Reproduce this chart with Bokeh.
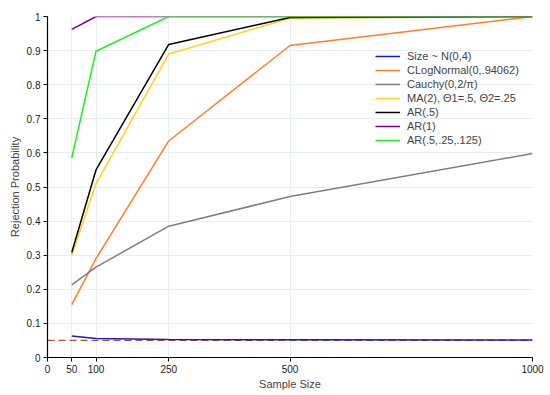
from bokeh.plotting import figure
from bokeh.models import Range1d, FixedTicker, Legend, LegendItem
from bokeh.embed import file_html
from bokeh.resources import INLINE

sizes = [50, 100, 250, 500, 1000]
normal = [0.063, 0.056, 0.053, 0.052, 0.051]
clognormal = [0.155, 0.29, 0.635, 0.915, 1.0]
cauchy = [0.213, 0.265, 0.385, 0.472, 0.598]
ma2 = [0.300, 0.51, 0.89, 0.995, 1.0]
ar05 = [0.308, 0.55, 0.918, 0.997, 1.0]
ar1 = [0.962, 1.0, 1.0, 1.0, 1.0]
ar3 = [0.585, 0.898, 1.0, 1.0, 1.0]
ref_x = [0, 1000]
ref_y = [0.05, 0.05]

series = [
    ("Size ~ N(0,4)", normal, "#1a1acc"),
    ("CLogNormal(0,.94062)", clognormal, "#ff7f27"),
    ("Cauchy(0,2/\u03c0)", cauchy, "#7f7f7f"),
    ("MA(2), \u03981=.5, \u03982=.25", ma2, "#ffd21f"),
    ("AR(.5)", ar05, "#000000"),
    ("AR(1)", ar1, "#800080"),
    ("AR(.5,.25,.125)", ar3, "#22ee22"),
]

p = figure(width=548, height=392, output_backend="svg", toolbar_location=None,
           x_range=Range1d(0, 1000), y_range=Range1d(0, 1),
           min_border_left=47, min_border_right=16, min_border_top=16, min_border_bottom=35)
p.outline_line_color = None
p.background_fill_color = "white"

p.line(ref_x, ref_y, line_color="#b0532a", line_width=1.3, line_dash="7 4")

items = []
for name, vals, col in series:
    r = p.line(sizes, vals, line_color=col, line_width=1.5)
    items.append(LegendItem(label=name, renderers=[r]))

legend = Legend(items=items, location=(328, 210))
legend.border_line_color = None
legend.background_fill_alpha = 0
legend.label_text_font = "Liberation Sans"
legend.label_text_font_size = "11px"
legend.glyph_width = 25
legend.glyph_height = 14
legend.label_height = 14
legend.label_standoff = 7
legend.spacing = 0
legend.padding = 2
p.add_layout(legend, "center")

p.xaxis.ticker = FixedTicker(ticks=[0, 50, 100, 250, 500, 1000])
p.yaxis.ticker = FixedTicker(ticks=[i / 10 for i in range(11)])
p.yaxis.major_label_overrides = {0: "0", 1: "1"}
p.yaxis.major_label_overrides.update({i / 10: "0.%d" % i for i in range(1, 10)})
for ax in (p.xaxis[0], p.yaxis[0]):
    ax.axis_line_color = "black"
    ax.axis_line_width = 1.2
    ax.major_tick_line_color = "black"
    ax.major_tick_out = 4
    ax.major_tick_in = 0
    ax.minor_tick_line_color = None
    ax.major_label_text_font = "Liberation Sans"
    ax.major_label_text_font_size = "10px"
    ax.major_label_text_color = "#222222"
    ax.axis_label_text_font = "Liberation Sans"
    ax.axis_label_text_font_size = "11px"
    ax.axis_label_text_font_style = "normal"
    ax.axis_label_standoff = 2
    ax.major_label_standoff = 3
p.xaxis.axis_label = "Sample Size"
p.yaxis.axis_label = "Rejection Probability"
p.yaxis.axis_label_standoff = 3
p.yaxis.major_label_orientation = "horizontal"

p.xgrid.grid_line_color = "#e6eef2"
p.ygrid.grid_line_color = "#e6eef2"

open("out.html", "w").write(file_html(p, INLINE))
